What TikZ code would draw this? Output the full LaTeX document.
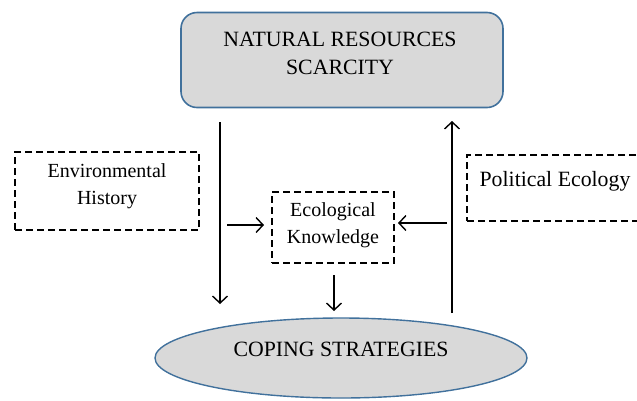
\documentclass[tikz,border=0pt]{standalone}
\usepackage{fontspec}
\setmainfont{Liberation Serif}
\usetikzlibrary{arrows.meta,shapes.geometric}
\definecolor{boxfill}{HTML}{D9D9D9}
\definecolor{boxline}{HTML}{41719C}
\begin{document}
\begin{tikzpicture}[x=1pt,y=-1pt,
  bigtext/.style={font=\fontsize{21.8}{29}\selectfont, align=center},
  smalltext/.style={font=\fontsize{20}{27}\selectfont, align=center},
  dashbox/.style={draw, dashed, dash pattern=on 7pt off 4pt, line width=1.4pt, inner sep=0pt},
  arr/.style={line width=1.4pt, -{Straight Barb[length=7pt,width=15pt,line width=1.4pt]}}]
\useasboundingbox (0,0) rectangle (637,400);
\clip (0,0) rectangle (637,400);
% top box
\node[draw=boxline, fill=boxfill, line width=1.6pt, rounded corners=16pt,
  minimum width=322pt, minimum height=95pt, inner sep=0pt] (nrs) at (342,60) {};
\node[bigtext, anchor=base] (nrst) at (340,46) {NATURAL RESOURCES};
\node[bigtext, anchor=base] (nrst2) at (340,74) {SCARCITY};
% environmental history
\node[dashbox, minimum width=184pt, minimum height=78pt] (env) at (107,191) {};
\node[smalltext, anchor=base] (envt1) at (107,177) {Environmental};
\node[smalltext, anchor=base] (envt2) at (107,204) {History};
% political ecology
\node[dashbox, minimum width=200pt, minimum height=66pt] (pol) at (567,188) {};
\node[bigtext, anchor=base] (polt) at (555,186) {Political Ecology};
% ecological knowledge
\node[dashbox, minimum width=122pt, minimum height=71pt] (ek) at (333,227.5) {};
\node[smalltext, anchor=base] (ekt1) at (333,216) {Ecological};
\node[smalltext, anchor=base] (ekt2) at (333,243) {Knowledge};
% coping strategies
\node[ellipse, draw=boxline, fill=boxfill, line width=1.4pt,
  minimum width=372pt, minimum height=80pt, inner sep=0pt] (cop) at (341,358) {};
\node[bigtext, anchor=base] (copt) at (341,356) {COPING STRATEGIES};
% arrows
\coordinate (a1s) at (220,122); \coordinate (a1e) at (220,304);
\coordinate (a2s) at (452,313); \coordinate (a2e) at (452,121);
\coordinate (a3s) at (227,225); \coordinate (a3e) at (264,225);
\coordinate (a4s) at (447,223); \coordinate (a4e) at (398,223);
\coordinate (a5s) at (334,275); \coordinate (a5e) at (334,311);
\draw[arr] (a1s) -- (a1e);
\draw[arr] (a2s) -- (a2e);
\draw[arr] (a3s) -- (a3e);
\draw[arr] (a4s) -- (a4e);
\draw[arr] (a5s) -- (a5e);
\end{tikzpicture}
\end{document}
